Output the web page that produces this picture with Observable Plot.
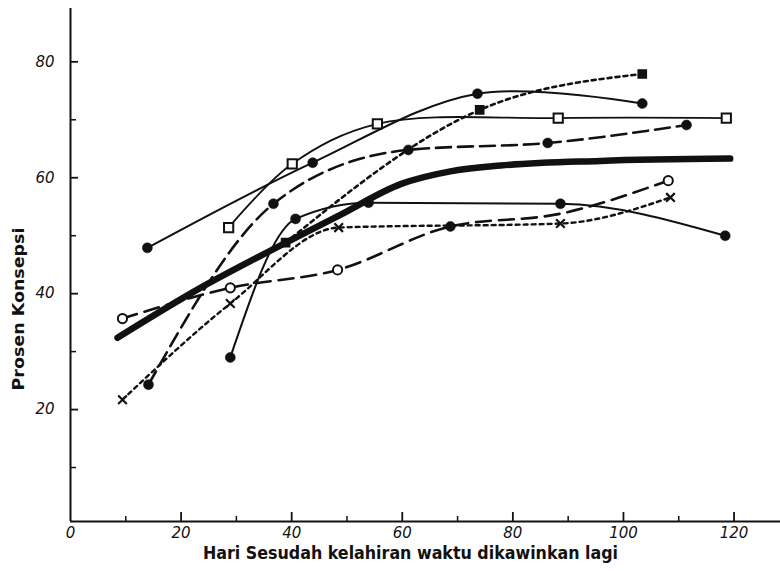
<!DOCTYPE html>
<html><head><meta charset="utf-8">
<script src="https://cdn.jsdelivr.net/npm/d3@7"></script>
<script src="https://cdn.jsdelivr.net/npm/@observablehq/plot@0.6"></script>
<style>
html,body{margin:0;padding:0;background:#fff;}
#chart svg{display:block;}
</style>
</head><body><div id="chart"></div>
<script>
// ---- tick labels & titles ----
const xTickLabels = [0, 20, 40, 60, 80, 100, 120];
const xMajorTicks = [20, 40, 60, 80, 100, 120];
const xMinorTicks = [10, 30, 50, 70, 90, 110];
const yTickLabels = [20, 40, 60, 80];
const yMinorTicks = [10, 30, 50, 70];
const xTitle = "Hari Sesudah kelahiran waktu dikawinkan lagi";
const yTitle = "Prosen Konsepsi";

// ---- series (days after calving, conception percent) ----
// thick average curve
const avgDays = [8.5, 23.5, 34.7, 48.8, 59.7, 68.7, 77.8, 95.8, 119.3];
const avgPct  = [32.4, 41.0, 46.7, 53.6, 58.9, 61.1, 62.1, 62.9, 63.3];
// A: solid, filled circles
const aDays = [13.9, 43.8, 73.6, 103.4];
const aPct  = [47.9, 62.6, 74.5, 72.8];
// B: solid, open squares
const bDays = [28.6, 40.1, 55.5, 88.2, 118.6];
const bPct  = [51.4, 62.4, 69.3, 70.3, 70.3];
// C: long dashes, filled circles
const cDays = [14.1, 36.7, 61.1, 86.3, 111.4];
const cPct  = [24.3, 55.5, 64.8, 66.0, 69.1];
// D: dotted, filled squares
const dDays = [38.9, 74.0, 103.4];
const dPct  = [48.8, 71.7, 77.9];
// E: solid, filled circles
const eDays = [28.9, 40.7, 53.9, 88.6, 118.4];
const ePct  = [29.0, 52.9, 55.7, 55.5, 50.0];
// F: dotted, crosses
const fDays = [9.4, 28.9, 48.5, 88.6, 108.5];
const fPct  = [21.7, 38.3, 51.4, 52.1, 56.6];
// G: long dashes, open circles
const gDays = [9.4, 28.9, 48.3, 68.7, 88.6, 108.1];
const gPct  = [35.7, 41.0, 44.1, 51.6, 53.8, 59.5];
const gMarks = ["circle-open", "circle-open", "circle-open", "dot", null, "circle-open"];

// ---- build tables ----
const build = (name, xs, ys, marker) => xs.map((x, i) => ({
  series: name, day: x, pct: ys[i],
  marker: Array.isArray(marker) ? marker[i] : marker
}));
const seriesDefs = [
  {name: "avg", rows: build("avg", avgDays, avgPct, null), w: 6.5, dash: null, curve: "monotone-x"},
  {name: "A", rows: build("A", aDays, aPct, "dot"), w: 2, dash: null, curve: "catmull-rom"},
  {name: "B", rows: build("B", bDays, bPct, "square-open"), w: 1.8, dash: null, curve: "catmull-rom"},
  {name: "C", rows: build("C", cDays, cPct, "dot"), w: 2.6, dash: "15,7", curve: "monotone-x"},
  {name: "D", rows: build("D", dDays, dPct, "square-fill"), w: 2.6, dash: "4,4", curve: "monotone-x"},
  {name: "E", rows: build("E", eDays, ePct, "dot"), w: 2, dash: null, curve: "monotone-x"},
  {name: "F", rows: build("F", fDays, fPct, "cross"), w: 2.4, dash: "4,4", curve: "monotone-x"},
  {name: "G", rows: build("G", gDays, gPct, gMarks), w: 2.6, dash: "15,8", curve: "monotone-x"}
];
const allRows = seriesDefs.flatMap(s => s.rows);

const W = 780, H = 571, mL = 70, mR = 0, mT = 8, mB = 50;
const frameW = W - mL - mR, frameH = H - mT - mB;
const xDomain = [0, 128.4];
const yDomain = [0.69, 89.2];
const ink = "#111";
const tickFont = "'DejaVu Sans', sans-serif";
const titleFont = "'DejaVu Sans Condensed', 'DejaVu Sans', sans-serif";

const lineMarks = seriesDefs.map(s => Plot.line(s.rows, {
  x: "day", y: "pct", stroke: ink, strokeWidth: s.w,
  strokeDasharray: s.dash, curve: s.curve
}));

const chart = Plot.plot({
  width: W, height: H,
  marginLeft: mL, marginRight: mR, marginTop: mT, marginBottom: mB,
  style: {background: "#fff", color: ink},
  x: {domain: xDomain},
  y: {domain: yDomain},
  marks: [
    // axis lines
    Plot.ruleX([0], {stroke: ink, strokeWidth: 2}),
    Plot.ruleY([yDomain[0]], {stroke: ink, strokeWidth: 2}),
    // inward ticks
    Plot.ruleX(xMajorTicks, {stroke: ink, strokeWidth: 1.8, insetTop: frameH - 9}),
    Plot.ruleX(xMinorTicks, {stroke: ink, strokeWidth: 1.5, insetTop: frameH - 5}),
    Plot.ruleY(yTickLabels, {stroke: ink, strokeWidth: 1.8, insetRight: frameW - 8}),
    Plot.ruleY(yMinorTicks, {stroke: ink, strokeWidth: 1.5, insetRight: frameW - 6}),
    // tick labels
    Plot.axisX({ticks: xTickLabels, tickSize: 0, tickPadding: 6, label: null,
      fontSize: 15, fontStyle: "italic", fontFamily: tickFont, fill: ink}),
    Plot.axisY({ticks: yTickLabels, tickSize: 0, tickPadding: 16, label: null,
      fontSize: 15, fontStyle: "italic", fontFamily: tickFont, fill: ink}),
    // lines
    ...lineMarks,
    // markers
    Plot.dot(allRows.filter(d => d.marker === "dot"), {x: "day", y: "pct", r: 5, fill: ink, stroke: ink, strokeWidth: 0.5}),
    Plot.dot(allRows.filter(d => d.marker === "square-open"), {x: "day", y: "pct", symbol: "square", r: 5.2, fill: "#fff", stroke: ink, strokeWidth: 2}),
    Plot.dot(allRows.filter(d => d.marker === "circle-open"), {x: "day", y: "pct", r: 4.6, fill: "#fff", stroke: ink, strokeWidth: 2}),
    Plot.dot(allRows.filter(d => d.marker === "square-fill"), {x: "day", y: "pct", symbol: "square", r: 4.6, fill: ink, stroke: ink}),
    Plot.dot(allRows.filter(d => d.marker === "cross"), {x: "day", y: "pct", symbol: "times", r: 4, fill: "none", stroke: ink, strokeWidth: 2.2}),
    // titles
    Plot.text([xTitle], {frameAnchor: "bottom", text: d => d, dx: -15, dy: 32,
      fontSize: 17, fontWeight: "bold", fontFamily: titleFont, fill: ink,
      lineAnchor: "middle", textAnchor: "middle"}),
    Plot.text([yTitle], {frameAnchor: "left", text: d => d, dx: -52, dy: 44, rotate: -90,
      fontSize: 16, fontWeight: "bold", fontFamily: titleFont, fill: ink,
      lineAnchor: "middle", textAnchor: "middle"})
  ]
});
// fit the two titles to the lengths they occupy in the original
d3.select(chart).selectAll("text").each(function () {
  const t = this.textContent;
  if (t === xTitle) d3.select(this).attr("textLength", 415).attr("lengthAdjust", "spacingAndGlyphs");
  if (t === yTitle) d3.select(this).attr("textLength", 163).attr("lengthAdjust", "spacingAndGlyphs");
});
document.getElementById("chart").appendChild(chart);
</script>
</body></html>
